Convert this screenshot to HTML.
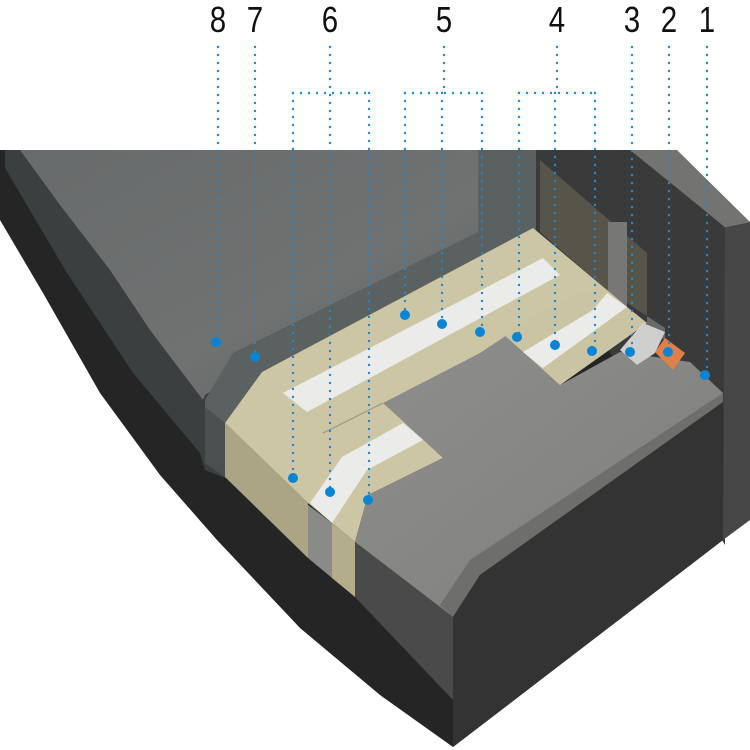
<!DOCTYPE html>
<html><head><meta charset="utf-8"><style>
html,body{margin:0;padding:0;background:#fff;}
svg{display:block;}
text{font-family:"Liberation Sans",sans-serif;font-size:36px;fill:#111;}
</style></head><body>
<svg width="750" height="750" viewBox="0 0 750 750" xmlns="http://www.w3.org/2000/svg">
<defs>
<linearGradient id="slope" x1="0" y1="0" x2="1" y2="1">
<stop offset="0" stop-color="#686b6b"/><stop offset="0.6" stop-color="#707272"/><stop offset="1" stop-color="#626464"/>
</linearGradient>
<linearGradient id="conc" x1="0" y1="0" x2="1" y2="1">
<stop offset="0" stop-color="#8e8e8c"/><stop offset="1" stop-color="#7e7e7c"/>
</linearGradient>
</defs>
<!-- dark body -->
<path d="M0,150 L536,150 L723,300 L723,540 L453,747 L380,695 L300,628 L217,540 L160,475 L100,393 L43,293 L0,220 Z" fill="#252525"/>
<!-- medium band -->
<path d="M5,150 L300,150 L300,420 L225,478 L205,470 L200,453 L133,373 L67,273 L5,168 Z" fill="#3c3f3f"/>
<!-- slope -->
<path d="M20,150 L478,150 L478,232 L205,395 L203,400 L150,330 L110,270 L60,205 Z" fill="url(#slope)"/>
<!-- wall front -->
<path d="M536,150 L632,150 L725,227 L725,545 L640,400 L536,235 Z" fill="#3a3a3a"/>
<!-- wall top -->
<path d="M630,150 L677,150 L750,222 L725,227 Z" fill="#737371"/>
<!-- wall right face -->
<path d="M725,227 L750,222 L750,520 L723,540 Z" fill="#474747"/>
<!-- membrane 7 -->
<path d="M478,150 L536,150 L536,232 L262,372 L225,423 L225,477 L205,463 L205,400 L233,353 L478,232 Z" fill="#5b6161"/>
<path d="M205,407 L225,423 L225,477 L205,463 Z" fill="#4a4f4f"/>
<!-- vertical panel -->
<path d="M540,160 L647,253 L647,316 L607,290 L540,232 Z" fill="#57554a"/>
<rect x="608" y="222" width="19" height="85" fill="#777775"/>
<path d="M647,316 L665,328 L665,340 L647,330 Z" fill="#6a6a6a"/>
<!-- beige main -->
<path d="M225,423 L262,372 L533,228 L607,290 L627,307 L647,323 L560,385 L443,458 L368,495 L355,542 L308,503 Z" fill="#cdc6a4"/>
<!-- concrete top -->
<path d="M383,403 L480,353 L507,335 L560,385 L620,352 L690,362 L723,393 L723,400 L480,573 L453,617 L355,542 L368,495 L443,458 Z" fill="url(#conc)"/>
<!-- concrete bevel -->
<path d="M723,393 L723,402 L480,575 L453,617 L440,605 L470,560 Z" fill="#6e6e6c"/>
<!-- concrete front faces -->
<path d="M723,402 L723,540 L453,747 L453,617 L480,575 Z" fill="#333333"/>
<path d="M355,542 L453,617 L453,700 L355,597 Z" fill="#4a4a4a"/>
<!-- fold line upper band -->
<path d="M323,433 L383,403" stroke="#9c9680" stroke-width="1.2"/>
<!-- upper white strip -->
<path d="M283,393 L543,258 L560,275 L307,412 Z" fill="#ebebea"/>
<!-- lower beige right sheet -->
<path d="M502,333 L577,293 L607,290 L627,307 L647,323 L560,385 Z" fill="#cbc4a2"/>
<path d="M523,352 L593,310 L607,293 L627,307 L543,368 Z" fill="#ebebea"/>
<!-- lower white strip -->
<path d="M310,503 L342,457 L403,423 L423,440 L367,470 L332,523 Z" fill="#ebebea"/>
<!-- front faces -->
<path d="M225,423 L308,503 L308,558 L225,477 Z" fill="#aca585"/>
<path d="M308,505 L332,523 L332,578 L308,558 Z" fill="#8a8a88"/>
<path d="M332,523 L355,542 L355,597 L332,578 Z" fill="#b4ad8c"/>
<!-- block 3 -->
<path d="M620,350 L643,323 L665,332 L655,353 L637,365 Z" fill="#cfcfcd"/>
<!-- block 2 -->
<path d="M655,352 L665,338 L685,353 L673,370 Z" fill="#e08048"/>
<!-- dotted leaders -->
<g stroke="#1a8ad4" stroke-width="2.4" stroke-linecap="round" stroke-dasharray="0 8" fill="none">
<path d="M218,47 V342"/><path d="M255,47 V357"/>
<path d="M330,47 V492"/><path d="M293,93 H369"/><path d="M293,93 V478"/><path d="M369,93 V500"/>
<path d="M444,47 V93"/><path d="M405,93 H482"/><path d="M405,93 V315"/><path d="M442,93 V324"/><path d="M482,93 V332"/>
<path d="M557,47 V93"/><path d="M519,93 H595"/><path d="M519,93 V337"/><path d="M555,93 V345"/><path d="M595,93 V351"/>
<path d="M632,47 V352"/><path d="M669,47 V352"/><path d="M707,47 V375"/>
</g>
<g fill="#0a84d4">
<circle cx="216" cy="342" r="5"/><circle cx="255" cy="357" r="5"/>
<circle cx="293" cy="478" r="5"/><circle cx="330" cy="492" r="5"/><circle cx="368" cy="500" r="5"/>
<circle cx="405" cy="315" r="5"/><circle cx="442" cy="324" r="5"/><circle cx="480" cy="332" r="5"/>
<circle cx="517" cy="337" r="5"/><circle cx="555" cy="345" r="5"/><circle cx="592" cy="351" r="5"/>
<circle cx="630" cy="352" r="5"/><circle cx="668" cy="352" r="5"/><circle cx="705" cy="375" r="5"/>
</g>
<g text-anchor="middle">
<text x="218" y="32" transform="translate(218 0) scale(0.82 1) translate(-218 0)">8</text>
<text x="255" y="32" transform="translate(255 0) scale(0.82 1) translate(-255 0)">7</text>
<text x="330" y="32" transform="translate(330 0) scale(0.82 1) translate(-330 0)">6</text>
<text x="444" y="32" transform="translate(444 0) scale(0.82 1) translate(-444 0)">5</text>
<text x="557" y="32" transform="translate(557 0) scale(0.82 1) translate(-557 0)">4</text>
<text x="632" y="32" transform="translate(632 0) scale(0.82 1) translate(-632 0)">3</text>
<text x="669" y="32" transform="translate(669 0) scale(0.82 1) translate(-669 0)">2</text>
<text x="707" y="32" transform="translate(707 0) scale(0.82 1) translate(-707 0)">1</text>
</g>
</svg>
</body></html>
